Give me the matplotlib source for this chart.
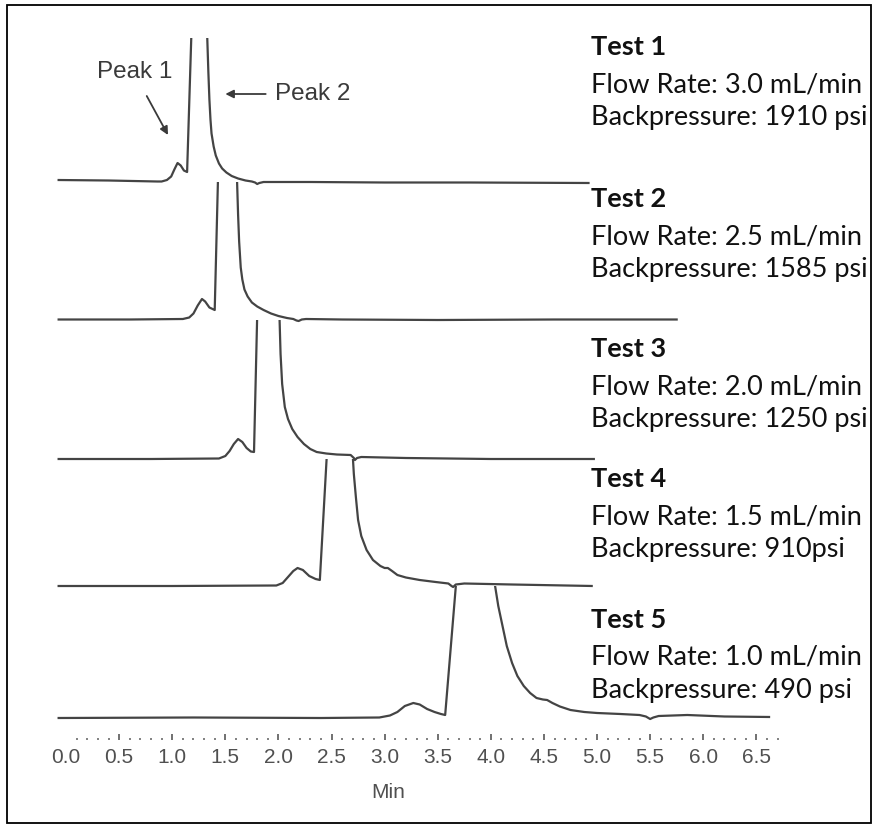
import numpy as np
import matplotlib.pyplot as plt
from matplotlib.patches import Rectangle
from matplotlib.ticker import FixedLocator

# retention time (min) and detector response above each trace's own baseline (arb. units)
# peak 2 goes off-scale, its apex value is only there so the line leaves the window
t1_time = [-0.08, 0.40, 0.86, 0.90, 0.95, 0.99, 1.02, 1.05, 1.08, 1.11, 1.14, 1.26,
           1.33, 1.34, 1.35, 1.36, 1.37, 1.39, 1.41, 1.44, 1.47, 1.51, 1.56, 1.62,
           1.69, 1.75, 1.78, 1.80, 1.82, 1.86, 2.30, 3.00, 3.80, 4.93]
t1_signal = [1.5, 1.0, 0.0, 0.0, 1.5, 5, 12, 18.5, 16, 11, 9.5, 420,
             143, 110, 82, 62, 48, 35, 26, 18, 13, 9, 5.5, 3,
             1, 0, -1, -2.5, -1.5, -0.5, -0.5, -1.0, -1.0, -1.5]

t2_time = [-0.08, 0.60, 1.10, 1.16, 1.20, 1.24, 1.28, 1.31, 1.35, 1.40, 1.52,
           1.61, 1.62, 1.63, 1.645, 1.66, 1.68, 1.71, 1.75, 1.80, 1.86, 1.93, 2.00,
           2.08, 2.14, 2.17, 2.19, 2.22, 2.26, 2.60, 3.50, 4.60, 5.76]
t2_signal = [0, 0, 0.5, 2, 6, 14, 20.5, 18, 12, 9.5, 520,
             140, 105, 78, 52, 40, 30, 23, 17, 13, 9.5, 6, 3.5,
             1.5, 0.5, -1, -1.5, 0, 0.5, 0, -0.5, 0, 0]

t3_time = [-0.08, 0.80, 1.44, 1.50, 1.54, 1.58, 1.62, 1.66, 1.70, 1.74, 1.77, 1.90,
           2.01, 2.02, 2.035, 2.06, 2.09, 2.13, 2.18, 2.24, 2.30, 2.36, 2.45, 2.55,
           2.68, 2.71, 2.72, 2.74, 2.78, 3.20, 4.00, 4.98]
t3_signal = [0, 0, 0.5, 3, 8, 15, 20, 17, 11, 7.5, 7, 600,
             142, 105, 75, 52, 40, 30, 22, 15, 10, 7, 5.5, 4.5,
             4, 1, -1, 1, 2, 1, 0, 0]

t4_time = [-0.08, 1.00, 1.98, 2.04, 2.09, 2.14, 2.18, 2.23, 2.29, 2.35, 2.39, 2.56,
           2.70, 2.71, 2.73, 2.75, 2.78, 2.83, 2.89, 2.96, 3.00, 3.03, 3.07, 3.12,
           3.20, 3.33, 3.48, 3.60, 3.63, 3.645, 3.67, 3.75, 4.20, 4.96]
t4_signal = [0, 0, 0.5, 3, 9, 15, 18, 16, 10, 7, 6, 330,
             130, 112, 88, 66, 50, 36, 26, 20, 18, 18, 15, 11,
             8.5, 6, 4, 2.5, 0, -1, 1.5, 2.5, 1.5, 0]

t5_time = [-0.08, 1.20, 2.40, 2.95, 3.05, 3.12, 3.19, 3.27, 3.33, 3.40, 3.47, 3.53,
           3.57, 3.70, 3.86, 4.04, 4.07, 4.11, 4.15, 4.20, 4.25, 4.31, 4.37, 4.43,
           4.49, 4.53, 4.58, 4.65, 4.75, 4.88, 5.00, 5.22, 5.40, 5.46, 5.50, 5.53,
           5.58, 5.85, 6.20, 6.63]
t5_signal = [0, 0.5, 0, 0.5, 2.5, 6, 12, 15, 13.5, 9, 6, 4,
             3, 170, 600, 132, 112, 92, 72, 55, 42, 32, 25, 20,
             18.5, 18, 15, 11.5, 8, 6, 5, 4, 3, 1.5, -1, 0.5,
             2, 3, 1.5, 1]

test_names = ["Test 1", "Test 2", "Test 3", "Test 4", "Test 5"]
flow_rates = ["3.0 mL/min", "2.5 mL/min", "2.0 mL/min", "1.5 mL/min", "1.0 mL/min"]
backpressures = ["1910 psi", "1585 psi", "1250 psi", "910psi", "490 psi"]

traces = [(t1_time, t1_signal), (t2_time, t2_signal), (t3_time, t3_signal),
          (t4_time, t4_signal), (t5_time, t5_signal)]

# vertical stacking of the chromatograms
offsets = [536.5, 398.5, 259, 132, 0]
XMIN, XMAX = -0.15, 6.75
YMIN, YMAX = -22, 680

W, H = 872, 824
fig = plt.figure(figsize=(W / 100, H / 100), dpi=100)
ax = fig.add_axes([50.1 / W, 1 - 740 / H, 732.8 / W, 702 / H])
ax.set_xlim(XMIN, XMAX)
ax.set_ylim(YMIN, YMAX)

line_color = "#444444"
for i, (tt, ss) in enumerate(traces):
    top = offsets[i - 1] if i > 0 else YMAX
    ln, = ax.plot(tt, np.array(ss) + offsets[i], color=line_color, lw=1.6,
                  solid_joinstyle="round", solid_capstyle="butt")
    # everything above the next trace up is cut off, like in the stacked print
    win = Rectangle((XMIN, YMIN), XMAX - XMIN, top - YMIN, transform=ax.transData)
    ln.set_clip_path(win)

for s in ax.spines.values():
    s.set_visible(False)
ax.set_yticks([])

major = np.arange(0, 6.51, 0.5)
minor = [k / 10 for k in range(1, 68) if k % 5 != 0]
ax.xaxis.set_major_locator(FixedLocator(major))
ax.xaxis.set_minor_locator(FixedLocator(minor))
ax.set_xticklabels([f"{v:.1f}" for v in major], family="Liberation Sans",
                   fontsize=15, color="#505050")
ax.tick_params(axis="x", which="major", direction="in", length=4, width=1.3,
               color="#666666", pad=6)
ax.tick_params(axis="x", which="minor", direction="in", length=1.6, width=1.3,
               color="#777777")
ax.xaxis.get_major_ticks()[0].tick1line.set_visible(False)

ax.text(3.03, -53 / 702, "Min", transform=ax.get_xaxis_transform(), ha="center",
        va="center", family="Liberation Sans", fontsize=15, color="#505050")

# peak labels
lab_kw = dict(family="Liberation Sans", fontsize=17.5, color="#3a3a3a", va="center")
ax.text(0.65, 646, "Peak 1", ha="center", **lab_kw)
ax.text(1.97, 624, "Peak 2", ha="left", **lab_kw)
arr = dict(arrowstyle="-|>", color="#3a3a3a", lw=1.3, mutation_scale=12,
           shrinkA=0, shrinkB=0)
ax.annotate("", xy=(0.96, 583), xytext=(0.76, 622), arrowprops=arr)
ax.annotate("", xy=(1.50, 624), xytext=(1.88, 624), arrowprops=arr)

# test description blocks on the right
block_base = [55, 207, 357, 487, 628]
txt_kw = dict(family="Lato", fontsize=19.5, color="#111111", va="baseline", ha="left")
for i in range(5):
    y0 = block_base[i]
    fig.text(591 / W, 1 - y0 / H, test_names[i], fontweight="bold", **txt_kw)
    fig.text(591 / W, 1 - (y0 + 37) / H, "Flow Rate: " + flow_rates[i], **txt_kw)
    fig.text(591 / W, 1 - (y0 + 70) / H, "Backpressure: " + backpressures[i], **txt_kw)

fig.patches.append(Rectangle((7 / W, 1.5 / H), 863.5 / W, 817.5 / H, fill=False,
                             ec="black", lw=1.3, transform=fig.transFigure))

fig.savefig("out.png", dpi=100)
